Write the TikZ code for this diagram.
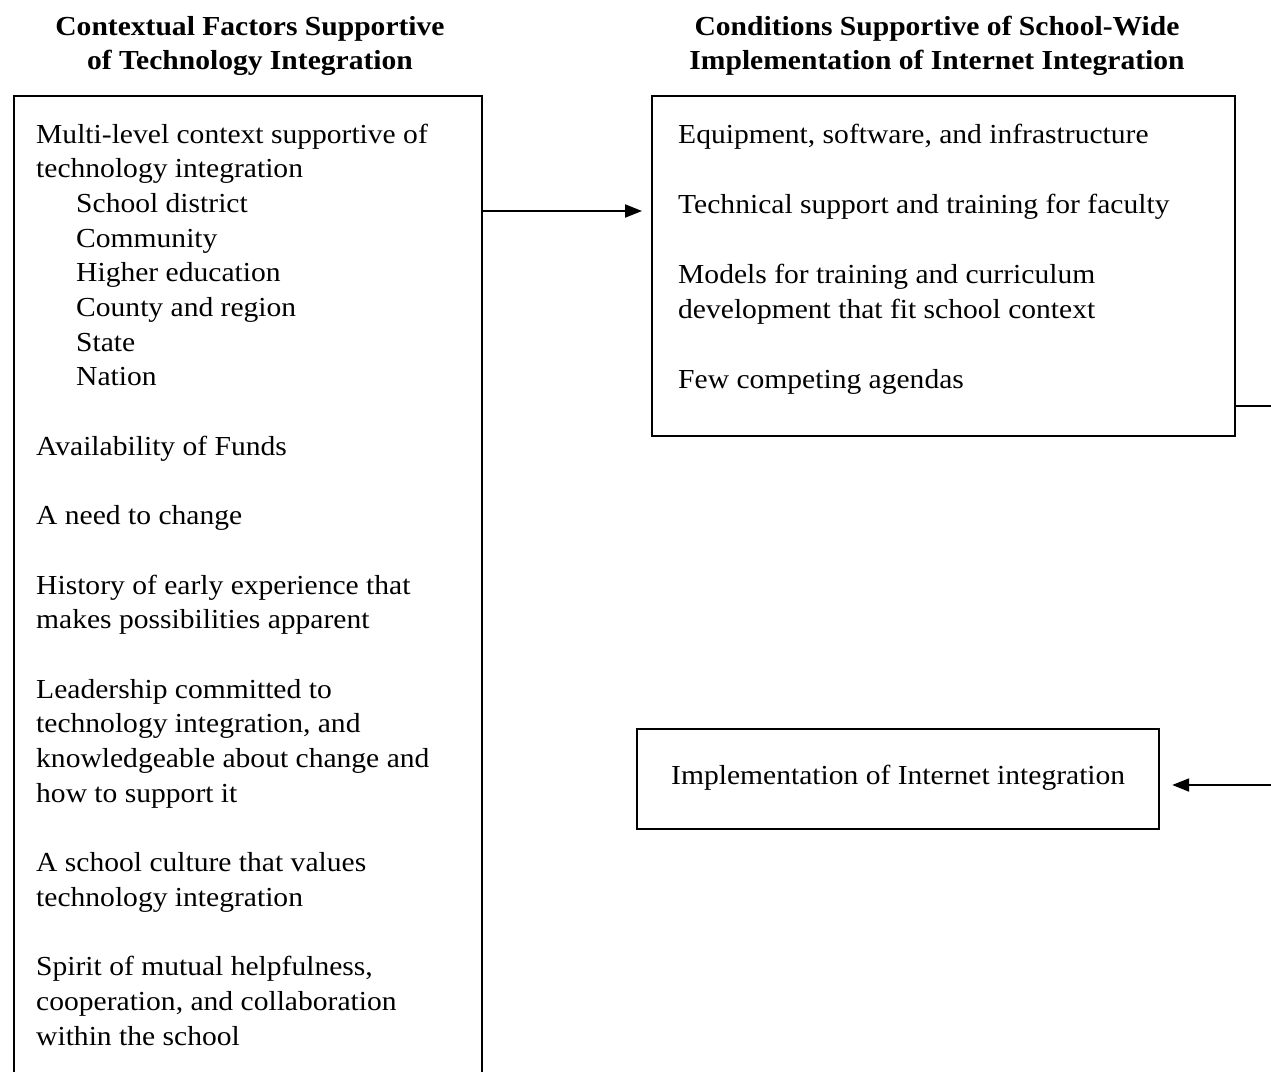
\documentclass[tikz,border=0pt]{standalone}
\usepackage{fontspec}
\setmainfont[FakeStretch=1.075]{Liberation Serif}
\usetikzlibrary{arrows.meta}
\begin{document}
\begin{tikzpicture}[x=1pt,y=-1pt,
  frame/.style={draw=black,line width=2.2pt,inner sep=0pt,anchor=north west},
  txt/.style={inner sep=0pt,anchor=base west,font=\fontsize{27.5}{35}\selectfont},
  ttl/.style={inner sep=0pt,anchor=base,font=\fontsize{27.5}{35}\selectfont\bfseries},
  arr/.style={line width=2pt,-{Triangle[length=17pt,width=13pt]}},
  conn/.style={line width=2pt}]
\useasboundingbox (0,0) rectangle (1271,1071);
\clip (0,0) rectangle (1271,1071);
% titles
\node[ttl] (t1a) at (250,35) {Contextual Factors Supportive};
\node[ttl] (t1b) at (250,69) {of Technology Integration};
\node[ttl] (t2a) at (937,35) {Conditions Supportive of School-Wide};
\node[ttl] (t2b) at (937,69) {Implementation of Internet Integration};
% boxes
\node[frame,minimum width=468pt,minimum height=1010pt] (lbox) at (13,95) {};
\node[frame,minimum width=583pt,minimum height=340pt] (rbox) at (651,95) {};
\node[frame,minimum width=522pt,minimum height=100pt] (bbox) at (636,728) {};
% left box text
\foreach \k/\x/\t in {0/36/{Multi-level context supportive of},
  1/36/{technology integration},
  2/76/{School district},
  3/76/{Community},
  4/76/{Higher education},
  5/76/{County and region},
  6/76/{State},
  7/76/{Nation},
  9/36/{Availability of Funds},
  11/36/{A need to change},
  13/36/{History of early experience that},
  14/36/{makes possibilities apparent},
  16/36/{Leadership committed to},
  17/36/{technology integration, and},
  18/36/{knowledgeable about change and},
  19/36/{how to support it},
  21/36/{A school culture that values},
  22/36/{technology integration},
  24/36/{Spirit of mutual helpfulness,},
  25/36/{cooperation, and collaboration},
  26/36/{within the school}}
  \node[txt] (L\k) at (\x,143+34.7*\k) {\t};
% right box text
\node[txt] (R1) at (678,143) {Equipment, software, and infrastructure};
\node[txt] (R2) at (678,213) {Technical support and training for faculty};
\node[txt] (R3) at (678,283) {Models for training and curriculum};
\node[txt] (R4) at (678,318) {development that fit school context};
\node[txt] (R5) at (678,388) {Few competing agendas};
% bottom box text
\node[txt] (B1) at (671,784) {Implementation of Internet integration};
% connectors
\coordinate (c1) at (1271,406);
\coordinate (c2) at (1271,785);
\draw[arr,shorten >=9pt] (lbox.north east |- 0,211) -- (rbox.north west |- 0,211);
\draw[conn] (rbox.north east |- 0,406) -- (c1);
\draw[arr,shorten >=12pt] (c2) -- (bbox.north east |- 0,785);
\end{tikzpicture}
\end{document}
